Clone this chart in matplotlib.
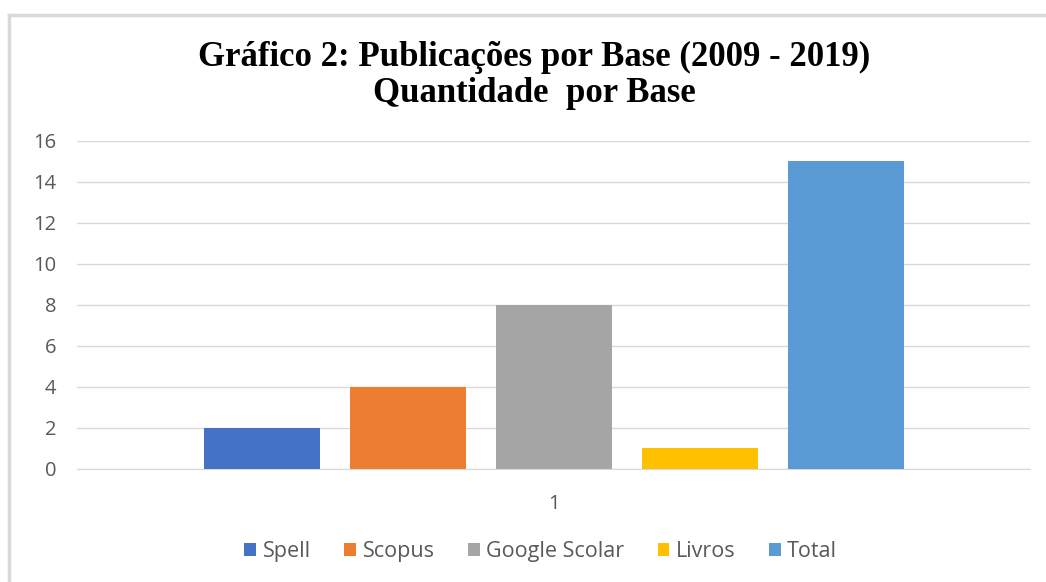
import numpy as np
import matplotlib.pyplot as plt
from matplotlib.lines import Line2D

bases = ['Spell', 'Scopus', 'Google Scolar', 'Livros', 'Total']
quantidade = [2, 4, 8, 1, 15]
cores = ['#4472C4', '#ED7D31', '#A5A5A5', '#FFC000', '#5B9BD5']
grupo = ['1']

fig = plt.figure(figsize=(10.46, 5.82), dpi=100)
ax = fig.add_axes([0.0736, 0.1942, 0.911, 0.5636])

x_pos = np.arange(len(bases)) - (len(bases) - 1) / 2
for x, h, c, nome in zip(x_pos, quantidade, cores, bases):
    ax.bar(x, h, width=0.79, color=c, label=nome, zorder=3)

ax.set_xlim(-3.267, 3.26)
ax.set_ylim(0, 16)
ax.set_yticks(range(0, 17, 2))
ax.set_xticks([0])
ax.set_xticklabels(grupo)
ax.grid(axis='y', color='#D9D9D9', linewidth=1, zorder=0)
for s in ['top', 'right', 'left']:
    ax.spines[s].set_visible(False)
ax.spines['bottom'].set_color('#D9D9D9')
ax.tick_params(length=0, labelsize=14.5, labelcolor='#595959', pad=15)
ax.tick_params(axis='x', pad=18)
for t in ax.get_xticklabels() + ax.get_yticklabels():
    t.set_family('Open Sans')

fig.text(0.511, 0.871, 'Gráfico 2: Publicações por Base (2009 - 2019)\nQuantidade  por Base',
         ha='center', va='center', family='Liberation Serif', fontweight='bold',
         fontsize=25, linespacing=1.12)

leg = fig.legend(loc='center', bbox_to_anchor=(0.517, 0.052), ncol=5, frameon=False,
                 handlelength=0.55, handleheight=0.55, handletextpad=0.3, columnspacing=1.55,
                 prop={'family': 'Open Sans', 'size': 15.5})
for t in leg.get_texts():
    t.set_color('#595959')

# moldura do gráfico
fig.add_artist(Line2D([0.009, 1.0], [0.974, 0.974], color='#D9D9D9', linewidth=2.5))
fig.add_artist(Line2D([0.009, 0.009], [0.0, 0.974], color='#D9D9D9', linewidth=2.5))

fig.savefig('out.png', dpi=100)
